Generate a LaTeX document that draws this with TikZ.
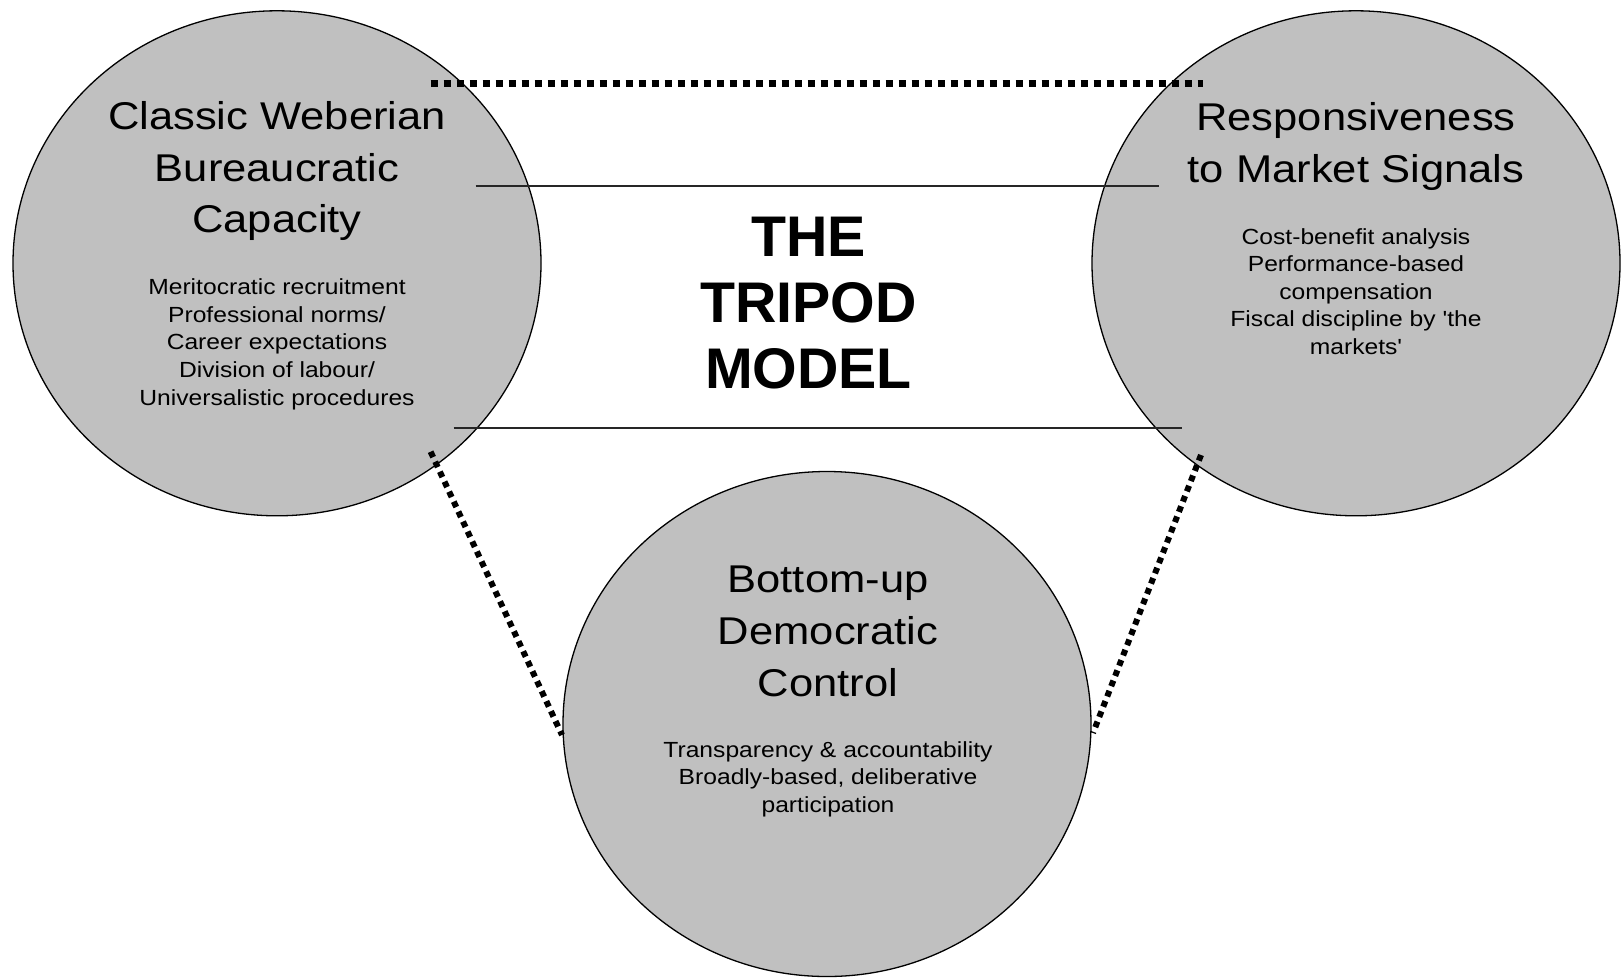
\documentclass[tikz,border=0pt]{standalone}
\usepackage{fontspec}
\setmainfont{Liberation Sans}
\newfontfamily\widefont{Liberation Sans}[FakeStretch=1.125]
\usetikzlibrary{shapes.geometric}
\definecolor{blobgray}{HTML}{C0C0C0}
\tikzset{
  blob/.style={ellipse, draw=black, line width=1.3pt, fill=blobgray,
    inner sep=0pt, minimum width=528pt, minimum height=505pt},
  headtext/.style={anchor=base, align=center, inner sep=0pt,
    font=\widefont\fontsize{38.7pt}{51.6pt}\selectfont},
  smalltext/.style={anchor=base, align=center, inner sep=0pt,
    font=\widefont\fontsize{21.9pt}{27.6pt}\selectfont},
  titletext/.style={anchor=base, align=center, inner sep=0pt,
    font=\bfseries\fontsize{57.3pt}{66pt}\selectfont},
  dotline/.style={line width=6.5pt, dash pattern=on 7pt off 6pt},
  diagdot/.style={line width=6pt, dash pattern=on 6pt off 5pt},
  bar/.style={line width=1.6pt, draw=black!85}
}
\begin{document}
\begin{tikzpicture}[x=1pt, y=-1pt]
\useasboundingbox[fill=white] (0,0) rectangle (1622,978);
% circles
\node[blob] (web) at (277,263.3) {};
\node[blob] (mkt) at (1356,263.3) {};
\node[blob] (dem) at (827,724) {};
% endpoints
\coordinate (t1) at (430.6,83.3);
\coordinate (t2) at (1203,83.3);
\coordinate (u1) at (475.5,185.7);
\coordinate (u2) at (1159,185.7);
\coordinate (l1) at (453.6,427.7);
\coordinate (l2) at (1181.6,427.7);
\coordinate (dl1) at (430.6,451.7);
\coordinate (dl2) at (562,735);
\coordinate (dr1) at (1201,455);
\coordinate (dr2) at (1093,733);
% connectors
\draw[dotline] (t1) -- (t2);
\draw[bar] (u1) -- (u2);
\draw[bar] (l1) -- (l2);
\draw[diagdot] (dl1) -- (dl2);
\draw[diagdot] (dr1) -- (dr2);
% texts (anchored at the baseline of their last line)
\node[headtext] (webh) at (277,232.6) {Classic Weberian\\Bureaucratic\\Capacity};
\node[smalltext] (webs) at (277,405) {Meritocratic recruitment\\Professional norms/\\Career expectations\\Division of labour/\\Universalistic procedures};
\node[headtext] (mkth) at (1356,182.3) {Responsiveness\\to Market Signals};
\node[smalltext] (mkts) at (1356,354.5) {Cost-benefit analysis\\Performance-based\\compensation\\Fiscal discipline by 'the\\markets'};
\node[headtext] (demh) at (828,696) {Bottom-up\\Democratic\\Control};
\node[smalltext] (dems) at (828,812.5) {Transparency \& accountability\\Broadly-based, deliberative\\participation};
\node[titletext] (title) at (808.5,388) {THE\\TRIPOD\\MODEL};
\end{tikzpicture}
\end{document}
